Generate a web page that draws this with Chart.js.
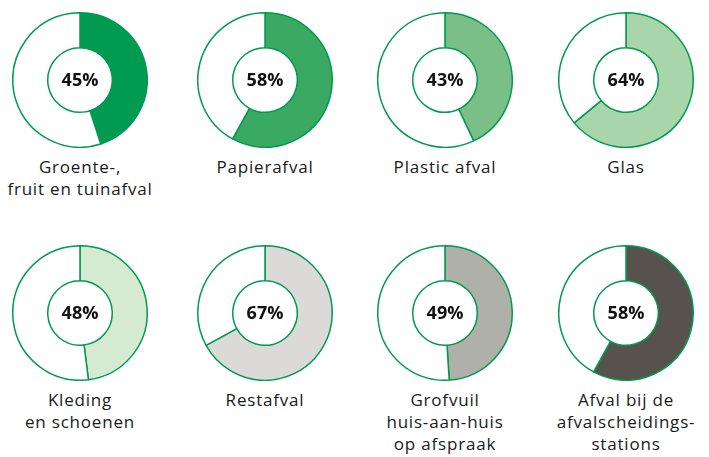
<!DOCTYPE html>
<html>
<head>
<meta charset="utf-8">
<script src="https://cdn.jsdelivr.net/npm/chart.js@4"></script>
<style>
  body { margin: 0; background: #fff; font-family: "Open Sans", sans-serif; }
  #wrap { position: relative; width: 709px; height: 457px; }
  .cell { position: absolute; width: 180px; }
  .cell canvas { display: block; margin: 0 auto; }
  .lbl { text-align: center; font-size: 17px; letter-spacing: 0.8px; line-height: 22px; color: #1a1a1a; margin-top: 8px; }
</style>
</head>
<body>
<div id="wrap"></div>
<script>
// labels, values and fill colours for the eight rings
var categories = [
  "Groente-,\nfruit en tuinafval", "Papierafval", "Plastic afval", "Glas",
  "Kleding\nen schoenen", "Restafval", "Grofvuil\nhuis-aan-huis\nop afspraak", "Afval bij de\nafvalscheidings-\nstations"
];
var percents = [45, 58, 43, 64, 48, 67, 49, 58];
var fills = ["#009a50", "#3aa962", "#7abf87", "#a8d5a9", "#d4ebd2", "#dcdad8", "#b0b0ab", "#57524d"];
var green = "#009a50";

var centersX = [80, 265, 445, 626];
var centersY = [80, 313];

// draws the percentage in the middle of each ring
var centerText = {
  id: "centerText",
  afterDraw: function(chart){
    var ctx = chart.ctx;
    var meta = chart.getDatasetMeta(0).data[0];
    ctx.save();
    ctx.font = "bold 18px 'Open Sans', sans-serif";
    ctx.fillStyle = "#111";
    ctx.textAlign = "center";
    ctx.textBaseline = "middle";
    ctx.fillText(chart.data.datasets[0].data[0] + "%", meta.x, meta.y + 1);
    ctx.restore();
  }
};

var wrap = document.getElementById("wrap");
$each = function(arr, fn){ for (var i = 0; i < arr.length; i++) fn(i, arr[i]); };

$each(categories, function(i, name){
  var cell = document.createElement("div");
  cell.className = "cell";
  var cx = centersX[i % 4], cy = centersY[Math.floor(i / 4)];
  cell.style.left = (cx - 90) + "px";
  cell.style.top = (cy - 68) + "px";
  var cv = document.createElement("canvas");
  cv.width = 136; cv.height = 136;
  cv.style.width = "136px"; cv.style.height = "136px";
  cell.appendChild(cv);
  var lbl = document.createElement("div");
  lbl.className = "lbl";
  lbl.innerHTML = name.split("\n").join("<br>");
  cell.appendChild(lbl);
  wrap.appendChild(cell);

  new Chart(cv.getContext("2d"), {
    type: "doughnut",
    data: {
      labels: ["part", "rest"],
      datasets: [{
        data: [percents[i], 100 - percents[i]],
        backgroundColor: [fills[i], "#ffffff"],
        borderColor: green,
        borderWidth: 1.5
      }]
    },
    options: {
      responsive: false,
      animation: false,
      cutout: "48%",
      layout: { padding: 0 },
      plugins: { legend: { display: false }, tooltip: { enabled: false } }
    },
    plugins: [centerText]
  });
});
</script>
</body>
</html>
